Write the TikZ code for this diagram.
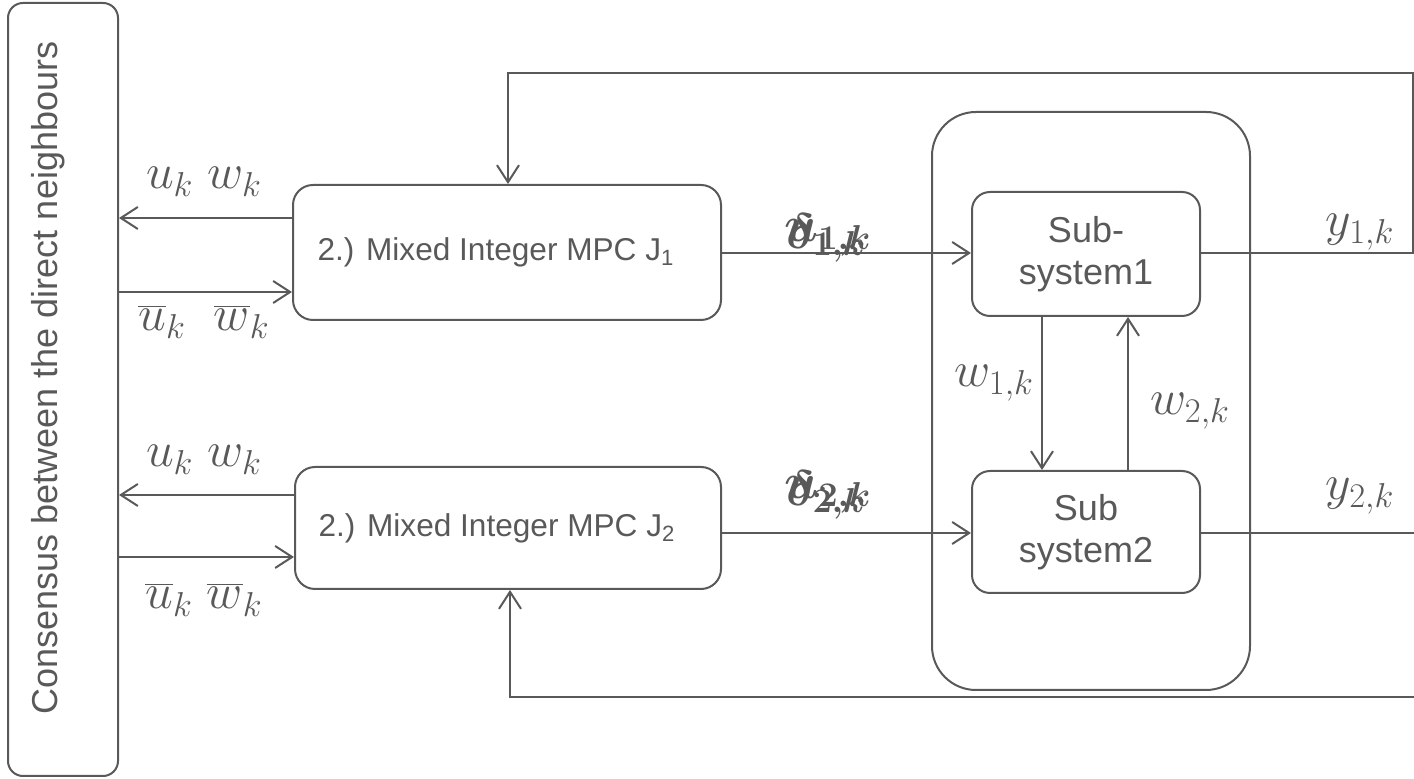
\documentclass[tikz,border=0pt]{standalone}
\usepackage[no-math]{fontspec}
\setmainfont{Liberation Sans}
\usetikzlibrary{arrows.meta}
\definecolor{ink}{HTML}{595959}
\tikzset{
  wire/.style={draw=ink, line width=1pt},
  arr/.style={wire, -{Straight Barb[length=8.5pt,width=11pt,line width=1pt]}},
  block/.style={draw=ink, line width=1pt, inner sep=0pt, text=ink, align=center},
  lbl/.style={text=ink, inner sep=0pt, font=\fontsize{25}{28}\selectfont},
  boldlbl/.style={text=ink, inner sep=0pt, font=\fontsize{23}{26}\selectfont\boldmath},
  ctrl/.style={block, rounded corners=10pt, font=\fontsize{15.8}{18}\selectfont},
  subsys/.style={block, rounded corners=9pt, minimum width=114pt, font=\fontsize{18}{21}\selectfont},
}
\begin{document}
\begin{tikzpicture}[x=0.5pt, y=-0.5pt]
  \useasboundingbox (0,0) rectangle (1414,779);

  % consensus column
  \node[block, rounded corners=7.5pt, minimum width=55pt, minimum height=386.5pt] (cons) at (63,389.5) {};
  \node[text=ink, rotate=90, font=\fontsize{18}{20}\selectfont] (constext) at (48,378) {Consensus between the direct neighbours};

  % controllers
  \node[ctrl, minimum width=214pt, minimum height=67.5pt] (mpc1) at (507,252.5)
    {2.) Mixed Integer MPC J\textsubscript{1}\hspace*{11pt}};
  \node[ctrl, minimum width=213pt, minimum height=61pt] (mpc2) at (508,528)
    {2.) Mixed Integer MPC J\textsubscript{2}\hspace*{11pt}};

  % plant
  \node[block, rounded corners=22pt, minimum width=159pt, minimum height=289pt] (plant) at (1091,401) {};
  \node[subsys, minimum height=62pt] (sub1) at (1086,254) {Sub-\\system1};
  \node[subsys, minimum height=61pt] (sub2) at (1086,532) {Sub\\system2};

  % exchange with the consensus layer
  \coordinate (a1) at (0,218);
  \coordinate (a2) at (0,292);
  \coordinate (a3) at (0,495);
  \coordinate (a4) at (0,557);
  \draw[arr] (mpc1.west |- a1) -- (cons.east |- a1);
  \draw[arr] (cons.east |- a2) -- (mpc1.west |- a2);
  \draw[arr] (mpc2.west |- a3) -- (cons.east |- a3);
  \draw[arr] (cons.east |- a4) -- (mpc2.west |- a4);
  \node[lbl] (uw1) at (204,182) {$u_k\ w_k$};
  \node[lbl] (ubw1) at (204,322) {$\overline{u}_k\ \ \overline{w}_k$};
  \node[lbl] (uw2) at (204,460) {$u_k\ w_k$};
  \node[lbl] (ubw2) at (204,600) {$\overline{u}_k\ \overline{w}_k$};

  % control inputs
  \coordinate (c1) at (0,253);
  \coordinate (c2) at (0,533);
  \draw[arr] (mpc1.east |- c1) -- (sub1.west |- c1);
  \draw[arr] (mpc2.east |- c2) -- (sub2.west |- c2);
  \node[boldlbl] (d1) at (826,238) {$\delta_{1,k}$};
  \node[boldlbl] (u1) at (828,238) {$u_{1,k}$};
  \node[boldlbl] (d2) at (826,495) {$\delta_{2,k}$};
  \node[boldlbl] (u2) at (828,495) {$u_{2,k}$};

  % coupling between the subsystems
  \coordinate (v1) at (1042,0);
  \coordinate (v2) at (1128,0);
  \draw[arr] (sub1.south -| v1) -- (sub2.north -| v1);
  \draw[arr] (sub2.north -| v2) -- (sub1.south -| v2);
  \node[lbl] (w1) at (994,383) {$w_{1,k}$};
  \node[lbl] (w2) at (1190,411) {$w_{2,k}$};

  % outputs and feedback
  \coordinate (r1) at (1413,253);
  \coordinate (r1t) at (1413,73);
  \coordinate (l1t) at (508,73);
  \draw[arr] (sub1.east |- c1) -- (r1) -- (r1t) -- (l1t) -- (mpc1.north -| l1t);
  \coordinate (r2) at (1414,533);
  \draw[wire] (sub2.east |- c2) -- (r2);
  \coordinate (r2b) at (1414,697);
  \coordinate (l2b) at (510,697);
  \draw[arr] (r2b) -- (l2b) -- (mpc2.south -| l2b);
  \node[lbl] (y1) at (1360,232) {$y_{1,k}$};
  \node[lbl] (y2) at (1360,496) {$y_{2,k}$};
\end{tikzpicture}
\end{document}
